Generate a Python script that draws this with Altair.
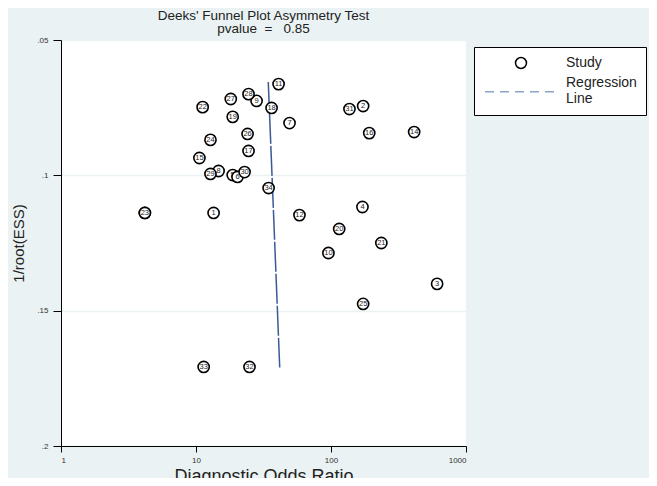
import altair as alt
import pandas as pd

# ---- data ----
studies = list(range(1, 35))
dor = [13.5, 173, 611, 171, 18.7, 20.3, 49.3, 14.7, 28.1, 95.7, 40.9, 58.4, 4.18, 413,
       10.6, 192, 24.5, 36.3, 18.7, 115, 236, 11.2, 4.18, 12.8, 173, 24.1, 18.1, 24.5,
       12.8, 22.9, 137, 24.9, 11.4, 34.5]
inv_root_ess = [0.1139, 0.0744, 0.1401, 0.1117, 0.0999, 0.1006, 0.0807, 0.0984, 0.0725,
                0.1287, 0.0663, 0.1147, 0.1139, 0.0840, 0.0936, 0.0844, 0.0910, 0.0751,
                0.0784, 0.1198, 0.1250, 0.0748, 0.1139, 0.0869, 0.1475, 0.0847, 0.0718,
                0.0700, 0.0995, 0.0988, 0.0755, 0.1708, 0.1708, 0.1047]
reg_x = [34.3, 41.7]
reg_y = [0.0655, 0.1710]
x_ticks = [1, 10, 100, 1000]
y_ticks = [0.05, 0.1, 0.15, 0.2]
series = ["Study", "Regression Line"]

df = pd.DataFrame({"study": studies, "dor": dor, "ess": inv_root_ess})
reg = pd.DataFrame({"dor": reg_x, "ess": reg_y})
leg = pd.DataFrame({"series": series, "dor": [10, 10], "ess": [0.1, 0.1]})

FONT = "Liberation Sans"
BG = "#eaf2f3"
NB = "\u00a0"

xs = alt.Scale(type="log", domain=[1, 1000], nice=False)
ys = alt.Scale(domain=[0.05, 0.2], reverse=True, nice=False, zero=False)

xenc = alt.X("dor:Q", scale=xs, axis=alt.Axis(
    values=x_ticks, format="d", title="Diagnostic Odds Ratio", grid=False,
    labelFontSize=8, titleFontSize=18, tickSize=6, labelPadding=4, titlePadding=3,
    domainColor="black", tickColor="black", labelColor="#333", titleColor="#222",
    labelFont=FONT, titleFont=FONT, titleFontWeight="normal"))
yenc = alt.Y("ess:Q", scale=ys, axis=alt.Axis(
    values=y_ticks, labelExpr="replace(format(datum.value, '.2~f'), '0.', '.')",
    title="1/root(ESS)", grid=True, gridColor=BG, gridWidth=1.3,
    labelFontSize=8, titleFontSize=15, tickSize=8, labelPadding=5, titlePadding=10,
    domainColor="black", tickColor="black", labelColor="#333", titleColor="#222",
    labelFont=FONT, titleFont=FONT, titleFontWeight="normal"))

layers = []

line = alt.Chart(reg).mark_line(color="#3a5a96", strokeWidth=1.5, strokeDash=[30, 2]).encode(
    x=xenc, y=yenc)
layers.append(line)

for s in studies:
    base = alt.Chart(df).transform_filter(alt.datum.study == s)
    layers.append(base.mark_point(shape="circle", size=125, filled=True, fill="white",
                                  stroke="black", strokeWidth=1.6, opacity=1).encode(
        x=alt.X("dor:Q", scale=xs), y=alt.Y("ess:Q", scale=ys)))
    layers.append(base.mark_text(fontSize=7.5, font=FONT, color="#222", align="center",
                                 baseline="middle").encode(
        x=alt.X("dor:Q", scale=xs), y=alt.Y("ess:Q", scale=ys), text="study:N"))

# dashed legend symbol (path in symbol units, ~5.5px each), shifted down between label lines
dash_path = ("M-6.57,1.6H-4.93M-3.83,1.6H-2.19M-1.09,1.6H0.55"
             "M1.65,1.6H3.29M4.39,1.6H6.03")
legend_layer = alt.Chart(leg).mark_point(opacity=0, filled=False, strokeWidth=1.5).encode(
    x=alt.X("dor:Q", scale=xs), y=alt.Y("ess:Q", scale=ys),
    shape=alt.Shape("series:N", scale=alt.Scale(domain=series, range=["circle", dash_path]),
                    legend=alt.Legend(title=None, orient="none", legendX=413, legendY=7,
                                      fillColor="white", strokeColor="black", padding=9,
                                      labelFontSize=14, labelFont=FONT, labelColor="#222",
                                      symbolStrokeWidth=1.5, symbolOpacity=1, symbolSize=120,
                                      symbolFillColor="transparent", symbolOffset=31,
                                      labelOffset=38, rowPadding=4, labelLimit=0,
                                      labelExpr="datum.label == 'Regression Line' ? ['Regression', 'Line'] : datum.label")),
    stroke=alt.Stroke("series:N", scale=alt.Scale(domain=series, range=["black", "#8aa4c8"])),
)
layers.append(legend_layer)

chart = alt.layer(*layers).properties(
    width=405, height=406,
    title=alt.TitleParams(["Deeks' Funnel Plot Asymmetry Test",
                           "pvalue" + NB + NB + "=" + NB + NB + NB + "0.85"],
                          anchor="middle", fontSize=13.5, font=FONT, fontWeight="normal",
                          color="#222", lineHeight=13, offset=1),
    autosize=alt.AutoSizeParams(type="none"),
    padding={"left": 53, "top": 32, "right": 183, "bottom": 32},
    background=BG,
).configure_view(stroke=None, fill="white")

chart.save("out.html", embed_options={"renderer": "svg", "actions": False})
